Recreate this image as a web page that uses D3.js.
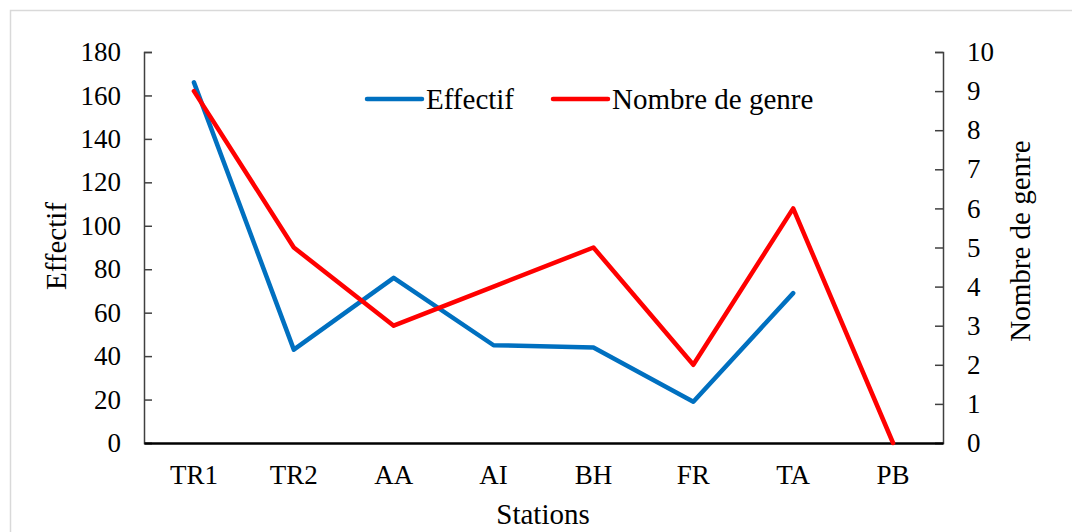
<!DOCTYPE html>
<html>
<head>
<meta charset="utf-8">
<script src="https://cdn.jsdelivr.net/npm/d3@7"></script>
<style>
  body { margin: 0; background: #fff; }
  svg text { font-family: "Liberation Serif", "Times New Roman", serif; fill: #000; }
</style>
</head>
<body>
<svg id="canvas"></svg>
<script>
let stations = ['TR1', 'TR2', 'AA', 'AI', 'BH', 'FR', 'TA', 'PB']
let effectif = [166, 43, 76, 45, 44, 19, 69, null]
let genres = [9, 5, 3, 4, 5, 2, 6, 0]
let leftTicks = [0, 20, 40, 60, 80, 100, 120, 140, 160, 180]
let rightTicks = [0, 1, 2, 3, 4, 5, 6, 7, 8, 9, 10]

let width = 1072
let height = 532
let plotLeft = 144
let plotRight = 943
let plotTop = 52
let plotBottom = 443

let canvas = d3.select('#canvas')
               .attr('width', width)
               .attr('height', height)

// chart frame
canvas.append('rect')
      .attr('x', 10.5).attr('y', 10.5)
      .attr('width', width).attr('height', height)
      .attr('fill', 'none')
      .attr('stroke', '#d9d9d9')
      .attr('stroke-width', 1.5)

let xScale = d3.scaleBand()
               .domain(stations)
               .range([plotLeft, plotRight])

let yLeft = d3.scaleLinear()
              .domain([0, 180])
              .range([plotBottom, plotTop])

let yRight = d3.scaleLinear()
               .domain([0, 10])
               .range([plotBottom, plotTop])

let xPos = (d, i) => xScale(stations[i]) + xScale.bandwidth() / 2

// axes, ticks point inwards
let leftAxis = d3.axisLeft(yLeft)
                 .tickValues(leftTicks)
                 .tickSize(-8)
                 .tickPadding(23)

let rightAxis = d3.axisRight(yRight)
                  .tickValues(rightTicks)
                  .tickSize(-8)
                  .tickPadding(24)

let gl = canvas.append('g')
               .attr('transform', `translate(${plotLeft}, 0)`)
               .call(leftAxis)

let gr = canvas.append('g')
               .attr('transform', `translate(${plotRight}, 0)`)
               .call(rightAxis)

for (let g of [gl, gr]) {
  g.select('.domain').attr('stroke', '#404040').attr('stroke-width', 1.5)
  g.selectAll('.tick line').attr('stroke', '#404040').attr('stroke-width', 1.5)
  g.selectAll('.tick text')
   .attr('font-size', 27)
   .attr('fill', '#000')
}

let xAxis = d3.axisBottom(xScale)
              .tickSize(0)
              .tickPadding(22)

let gx = canvas.append('g')
               .attr('transform', `translate(0, ${plotBottom})`)
               .call(xAxis)

gx.select('.domain').attr('stroke', '#000').attr('stroke-width', 2.5)
gx.selectAll('.tick text')
  .attr('font-size', 27)
  .attr('fill', '#000')

// lines
let effLine = d3.line()
                .defined(d => d !== null)
                .x(xPos)
                .y(d => yLeft(d))

let genLine = d3.line()
                .x(xPos)
                .y(d => yRight(d))

canvas.append('path')
      .datum(effectif)
      .attr('d', effLine)
      .attr('fill', 'none')
      .attr('stroke', '#0070C0')
      .attr('stroke-width', 4.5)
      .attr('stroke-linecap', 'round')
      .attr('stroke-linejoin', 'round')

canvas.append('path')
      .datum(genres)
      .attr('d', genLine)
      .attr('fill', 'none')
      .attr('stroke', '#FF0000')
      .attr('stroke-width', 4.5)
      .attr('stroke-linecap', 'round')
      .attr('stroke-linejoin', 'round')

// axis titles
canvas.append('text')
      .attr('transform', 'translate(66, 246) rotate(-90)')
      .attr('text-anchor', 'middle')
      .attr('font-size', 29)
      .text('Effectif')

canvas.append('text')
      .attr('transform', 'translate(1030, 241) rotate(-90)')
      .attr('text-anchor', 'middle')
      .attr('font-size', 29)
      .text('Nombre de genre')

canvas.append('text')
      .attr('x', 543)
      .attr('y', 524)
      .attr('text-anchor', 'middle')
      .attr('font-size', 29)
      .text('Stations')

// legend
let legendItems = [
  { name: 'Effectif', color: '#0070C0', x: 367 },
  { name: 'Nombre de genre', color: '#FF0000', x: 553 }
]

let legend = canvas.selectAll('.legend')
                   .data(legendItems)
                   .enter()
                   .append('g')
                   .attr('class', 'legend')
                   .attr('transform', d => `translate(${d.x}, 99)`)

legend.append('line')
      .attr('x1', 0).attr('x2', 55)
      .attr('y1', 0).attr('y2', 0)
      .attr('stroke', d => d.color)
      .attr('stroke-width', 4.5)
      .attr('stroke-linecap', 'round')

legend.append('text')
      .attr('x', 59)
      .attr('y', 10)
      .attr('font-size', 29)
      .text(d => d.name)
</script>
</body>
</html>
